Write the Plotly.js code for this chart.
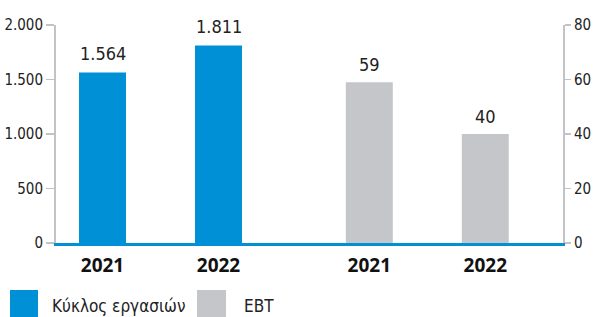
<!DOCTYPE html>
<html>
<head>
<meta charset="utf-8">
<script src="https://cdn.plot.ly/plotly-3.0.1.min.js"></script>
<style>html,body{margin:0;padding:0;background:#fff}#chart{width:593px;height:317px}</style>
</head>
<body>
<div id="chart"></div>
<script>
const years = ["2021", "2022"];
const turnover = [1564, 1811];
const ebt = [59, 40];
const seriesNames = ["Κύκλος εργασιών", "EBT"];

const blue = "#0090d5";
const grey = "#c5c6ca";
const axisGrey = "#c3c3c7";
const fontFam = "'DejaVu Sans Condensed', 'Liberation Sans Narrow', sans-serif";

// group offsets (layout)
const blueX = years.map((_, i) => i);
const greyX = years.map((_, i) => i + 2.3);

const fmt = v => v.toLocaleString("de-DE");

const traces = [
  {
    type: "bar", x: blueX, y: turnover, name: seriesNames[0],
    marker: {color: blue}, width: 0.405,
    showlegend: false, hoverinfo: "skip"
  },
  {
    type: "bar", x: greyX, y: ebt, name: seriesNames[1], yaxis: "y2",
    marker: {color: grey}, width: 0.405,
    showlegend: false, hoverinfo: "skip"
  }
];

const labelAnn = [];
turnover.forEach((v, i) => labelAnn.push({
  x: blueX[i], y: v, xref: "x", yref: "y", text: fmt(v), showarrow: false,
  yanchor: "bottom", yshift: 7, font: {family: fontFam, size: 18, color: "#222"}
}));
ebt.forEach((v, i) => labelAnn.push({
  x: greyX[i], y: v, xref: "x", yref: "y2", text: fmt(v), showarrow: false,
  yanchor: "bottom", yshift: 5, font: {family: fontFam, size: 18, color: "#222"}
}));

const layout = {
  width: 593, height: 317,
  margin: {l: 56, r: 30, t: 25, b: 74},
  separators: ",.",
  paper_bgcolor: "#fff", plot_bgcolor: "#fff",
  font: {family: fontFam, color: "#222"},
  showlegend: false,
  xaxis: {
    range: [-0.401, 3.97],
    tickvals: blueX.concat(greyX),
    ticktext: years.concat(years),
    tickfont: {family: "'Open Sans', 'DejaVu Sans', sans-serif", size: 19, color: "#111", weight: "bold"},
    ticks: "outside", ticklen: 3, tickcolor: "rgba(0,0,0,0)",
    showgrid: false, zeroline: false,
    showline: true, linecolor: blue, linewidth: 3,
    fixedrange: true
  },
  yaxis: {
    range: [0, 2000], tickvals: [0, 500, 1000, 1500, 2000], tickformat: ",d",
    tickfont: {family: fontFam, size: 15, color: "#222"},
    ticks: "outside", ticklen: 8, tickcolor: axisGrey, tickwidth: 1.5,
    showline: true, linecolor: axisGrey, linewidth: 2,
    showgrid: false, zeroline: false, fixedrange: true
  },
  yaxis2: {
    overlaying: "y", side: "right",
    range: [0, 80], tickvals: [0, 20, 40, 60, 80],
    tickfont: {family: fontFam, size: 15, color: "#222"},
    ticks: "outside", ticklen: 6, tickcolor: axisGrey, tickwidth: 1.5,
    showline: true, linecolor: axisGrey, linewidth: 2,
    showgrid: false, zeroline: false, fixedrange: true
  },
  shapes: [
    {type: "rect", xref: "paper", yref: "paper", x0: -46/507, x1: -18/507, y0: -74/218, y1: -47/218, fillcolor: blue, line: {width: 0}},
    {type: "rect", xref: "paper", yref: "paper", x0: 141/507, x1: 170/507, y0: -74/218, y1: -47/218, fillcolor: grey, line: {width: 0}}
  ],
  annotations: labelAnn.concat([
    {xref: "paper", yref: "paper", x: -6/507, y: -63/218, xanchor: "left", yanchor: "middle", text: seriesNames[0], showarrow: false, font: {family: fontFam, size: 17, color: "#222"}},
    {xref: "paper", yref: "paper", x: 186/507, y: -63/218, xanchor: "left", yanchor: "middle", text: seriesNames[1], showarrow: false, font: {family: fontFam, size: 17, color: "#222"}}
  ])
};

Plotly.newPlot("chart", traces, layout, {displayModeBar: false, staticPlot: true});
</script>
</body>
</html>
